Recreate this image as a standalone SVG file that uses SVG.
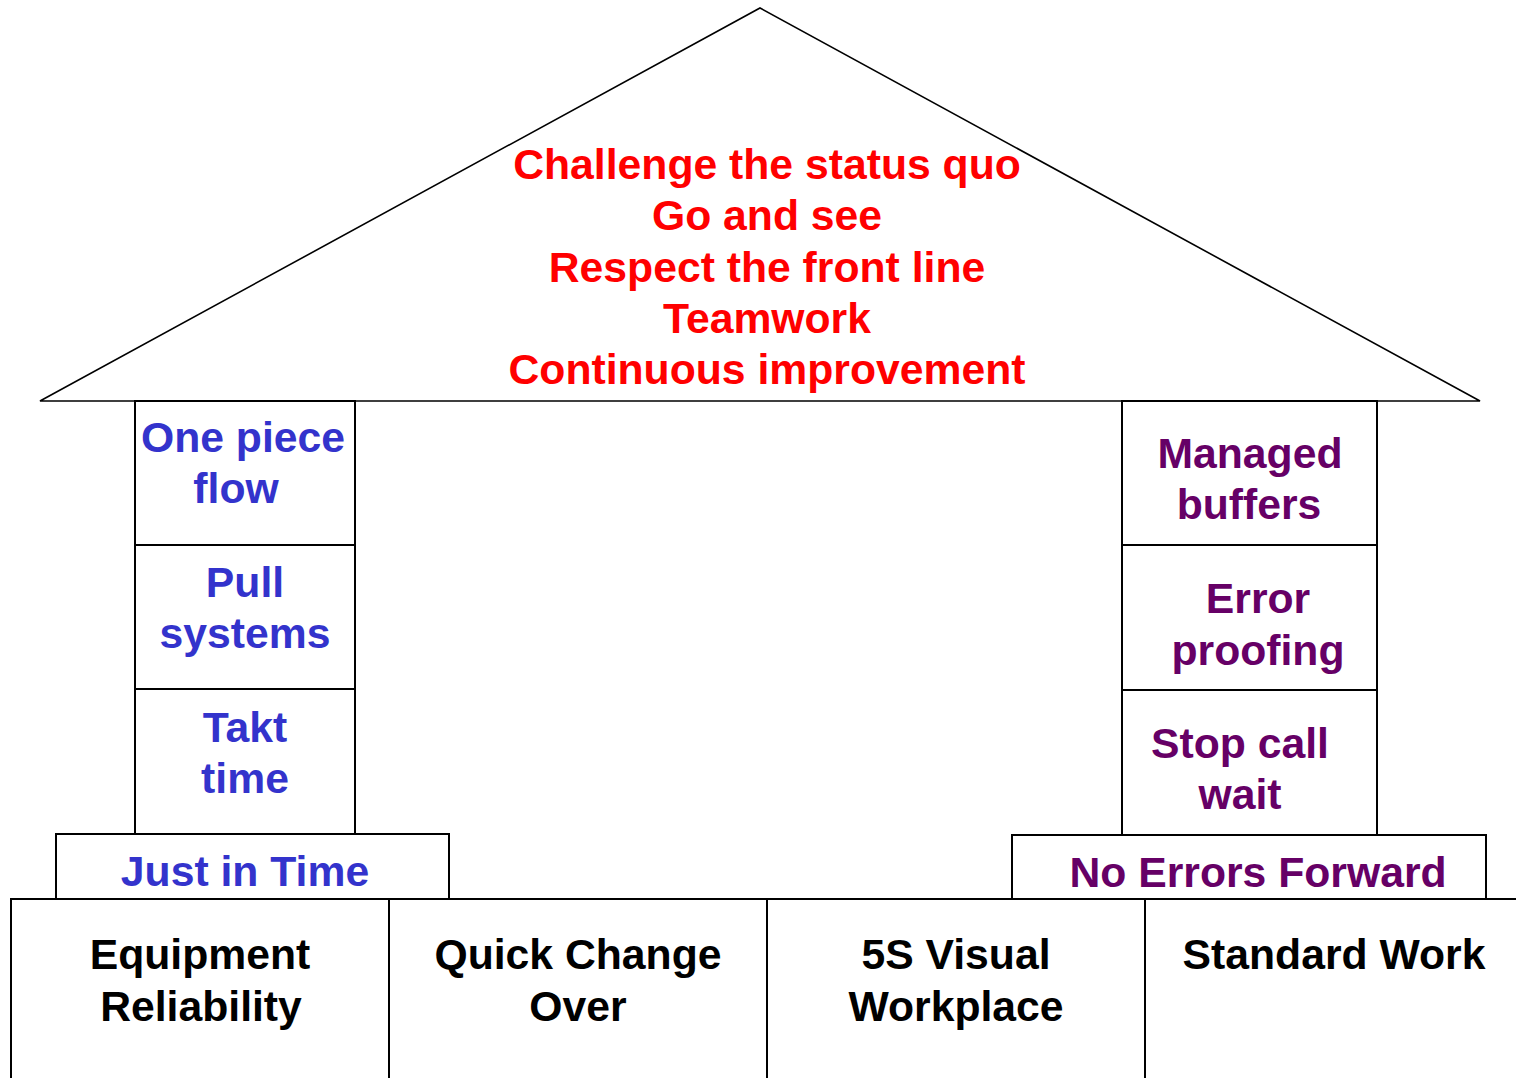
<svg xmlns="http://www.w3.org/2000/svg" width="1516" height="1078" viewBox="0 0 1516 1078">
<style>
text{font-family:"Liberation Sans",Arial,sans-serif;font-weight:bold;font-size:42.7px;text-anchor:middle}
.r{fill:#FF0000}
.b{fill:#3333CC}
.p{fill:#660066}
.k{fill:#000000}
.box{fill:#ffffff;stroke:#000000;stroke-width:2}
.roof{fill:#ffffff;stroke:#000000;stroke-width:1.6;stroke-linejoin:miter}
</style>
<rect width="1516" height="1078" fill="#ffffff"/>
<g id="roof">
<polygon class="roof" points="40,401 760,8 1480,401"/>
<text class="r" x="767" y="179">Challenge the status quo</text>
<text class="r" x="767" y="230">Go and see</text>
<text class="r" x="767" y="282">Respect the front line</text>
<text class="r" x="767" y="333">Teamwork</text>
<text class="r" x="767" y="384">Continuous improvement</text>
</g>
<g id="one-piece-flow">
<rect class="box" x="135" y="401" width="220" height="144"/>
<text class="b" x="243" y="452">One piece</text>
<text class="b" x="236" y="503">flow</text>
</g>
<g id="pull-systems">
<rect class="box" x="135" y="545" width="220" height="144"/>
<text class="b" x="245" y="597">Pull</text>
<text class="b" x="245" y="648">systems</text>
</g>
<g id="takt-time">
<rect class="box" x="135" y="689" width="220" height="145"/>
<text class="b" x="245" y="742">Takt</text>
<text class="b" x="245" y="793">time</text>
</g>
<g id="just-in-time">
<rect class="box" x="56" y="834" width="393" height="65"/>
<text class="b" x="245" y="886">Just in Time</text>
</g>
<g id="managed-buffers">
<rect class="box" x="1122" y="401" width="255" height="144"/>
<text class="p" x="1250" y="468">Managed</text>
<text class="p" x="1249" y="519">buffers</text>
</g>
<g id="error-proofing">
<rect class="box" x="1122" y="545" width="255" height="145"/>
<text class="p" x="1258" y="613">Error</text>
<text class="p" x="1258" y="665">proofing</text>
</g>
<g id="stop-call-wait">
<rect class="box" x="1122" y="690" width="255" height="145"/>
<text class="p" x="1240" y="758">Stop call</text>
<text class="p" x="1240" y="809">wait</text>
</g>
<g id="no-errors-forward">
<rect class="box" x="1012" y="835" width="474" height="64"/>
<text class="p" x="1258" y="887">No Errors Forward</text>
</g>
<g id="equipment-reliability">
<rect class="box" x="11" y="899" width="378" height="190"/>
<text class="k" x="200" y="969">Equipment</text>
<text class="k" x="201" y="1021">Reliability</text>
</g>
<g id="quick-change-over">
<rect class="box" x="389" y="899" width="378" height="190"/>
<text class="k" x="578" y="969">Quick Change</text>
<text class="k" x="578" y="1021">Over</text>
</g>
<g id="5s-visual-workplace">
<rect class="box" x="767" y="899" width="378" height="190"/>
<text class="k" x="956" y="969">5S Visual</text>
<text class="k" x="956" y="1021">Workplace</text>
</g>
<g id="standard-work">
<rect class="box" x="1145" y="899" width="390" height="190"/>
<text class="k" x="1334" y="969">Standard Work</text>
</g>
</svg>
